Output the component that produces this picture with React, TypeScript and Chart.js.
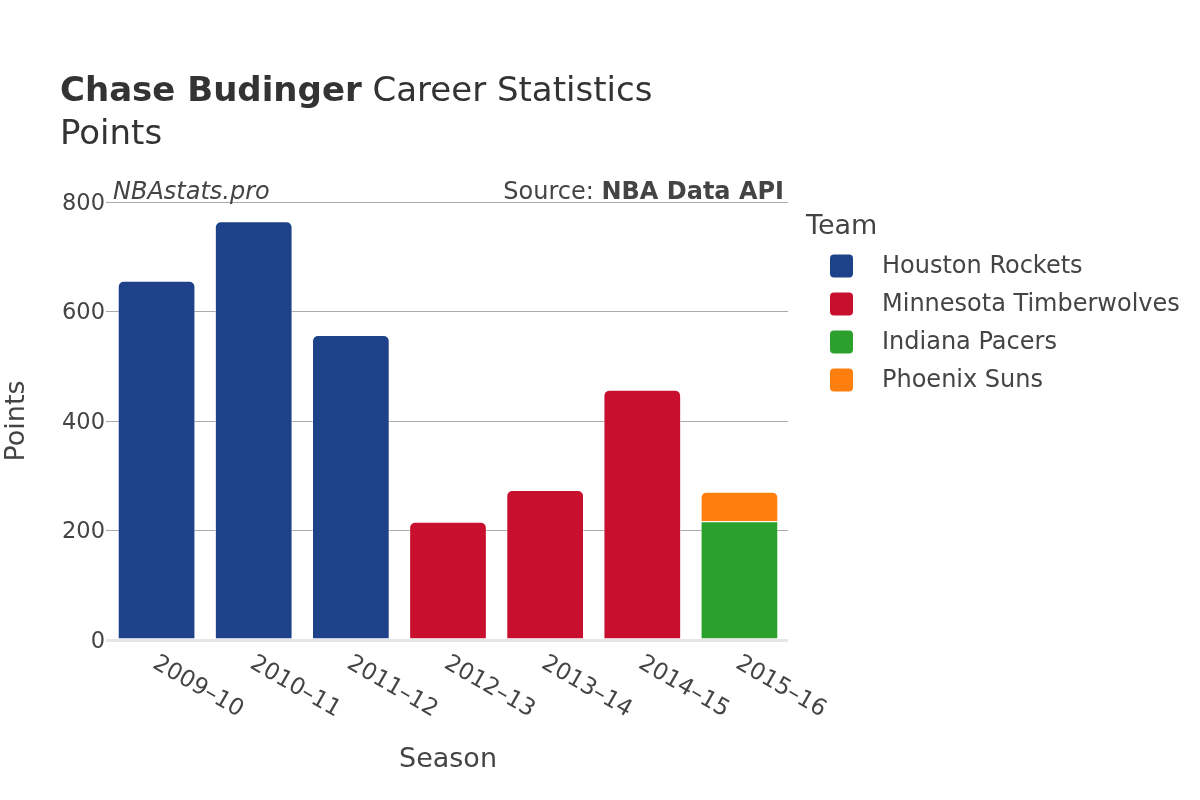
import React, { useEffect, useRef } from "react";
import { Chart, registerables } from "chart.js";

Chart.register(...registerables);

const seasons = ["2009–10", "2010–11", "2011–12", "2012–13", "2013–14", "2014–15", "2015–16"];
const teams = ["Houston Rockets", "Minnesota Timberwolves", "Indiana Pacers", "Phoenix Suns"];
const teamColors = ["#1d428a", "#c8102e", "#2ca02c", "#ff7f0e"];
const houstonPoints = [656, 765, 557, null, null, null, null];
const minnesotaPoints = [null, null, null, 216, 274, 457, null];
const indianaPoints = [null, null, null, null, null, null, 217];
const phoenixPoints = [null, null, null, null, null, null, 54];
const yTicks = [0, 200, 400, 600, 800];

const FONT = "'DejaVu Sans', sans-serif";

const textPlugin = {
  id: "texts",
  afterDraw(chart: any) {
    const ctx: CanvasRenderingContext2D = chart.ctx;
    const area = chart.chartArea;
    const xs = chart.scales.x;
    ctx.save();
    // Title
    ctx.fillStyle = "#333";
    ctx.textBaseline = "alphabetic";
    ctx.textAlign = "left";
    ctx.font = `bold 34px ${FONT}`;
    const t1 = "Chase Budinger";
    ctx.fillText(t1, 60, 101);
    const w1 = ctx.measureText(t1).width;
    ctx.font = `34px ${FONT}`;
    ctx.fillText(" Career Statistics", 60 + w1, 101);
    ctx.fillText("Points", 60, 144);

    // watermark / source
    ctx.fillStyle = "#444";
    ctx.font = `italic 24px ${FONT}`;
    ctx.fillText("NBAstats.pro", 113, 199);
    ctx.textAlign = "right";
    ctx.font = `bold 24px ${FONT}`;
    const src = "NBA Data API";
    ctx.fillText(src, 784, 199);
    const ws = ctx.measureText(src).width;
    ctx.font = `24px ${FONT}`;
    ctx.fillText("Source: ", 784 - ws, 199);

    // x tick labels
    ctx.font = `23.2px ${FONT}`;
    ctx.fillStyle = "#444";
    ctx.textAlign = "left";
    ctx.textBaseline = "alphabetic";
    const labels = chart.data.labels as string[];
    labels.forEach((lab, i) => {
      const x = xs.getPixelForTick(i);
      ctx.save();
      ctx.translate(x - 5, area.bottom + 27);
      ctx.rotate(Math.PI / 6);
      ctx.fillText(lab, 0, 0);
      ctx.restore();
    });

    // axis titles
    ctx.font = `27px ${FONT}`;
    ctx.textAlign = "center";
    ctx.textBaseline = "middle";
    ctx.fillText("Season", (area.left + area.right) / 2, 760);
    ctx.save();
    ctx.translate(17, (area.top + area.bottom) / 2);
    ctx.rotate(-Math.PI / 2);
    ctx.fillText("Points", 0, 0);
    ctx.restore();

    // legend
    ctx.textAlign = "left";
    ctx.textBaseline = "middle";
    ctx.fillStyle = "#444";
    ctx.font = `27px ${FONT}`;
    ctx.fillText("Team", 806, 227);
    ctx.font = `24px ${FONT}`;
    chart.data.datasets.forEach((ds: any, i: number) => {
      const cy = 266 + i * 38;
      ctx.fillStyle = ds.backgroundColor;
      ctx.beginPath();
      (ctx as any).roundRect(830, cy - 11.5, 23, 23, 4);
      ctx.fill();
      ctx.fillStyle = "#444";
      ctx.fillText(ds.label, 882, cy + 1);
    });
    ctx.restore();
  },
};

export default function App() {
  const ref = useRef<HTMLCanvasElement | null>(null);
  useEffect(() => {
    if (!ref.current) return;
    const series = [houstonPoints, minnesotaPoints, indianaPoints, phoenixPoints];
    const chart = new Chart(ref.current, {
      type: "bar",
      data: {
        labels: seasons,
        datasets: series.map((d, i) => ({
          label: teams[i],
          data: d,
          backgroundColor: teamColors[i],
          borderColor: "rgba(255,255,255,0.45)",
          borderWidth: 1,
          borderSkipped: "start",
          borderRadius: 6,
          barPercentage: 0.8,
          categoryPercentage: 1,
        })) as any,
      },
      options: {
        responsive: false,
        animation: false,
        layout: { padding: { left: 0, top: 202, right: 412, bottom: 160 } },
        plugins: { legend: { display: false }, tooltip: { enabled: false }, title: { display: false } },
        scales: {
          x: {
            stacked: true,
            grid: { display: false },
            border: { display: false },
            ticks: { display: false },
            afterFit: (s: any) => { s.height = 0; },
          },
          y: {
            stacked: true,
            min: 0,
            max: 800,
            afterFit: (s: any) => { s.width = 108; },
            afterBuildTicks: (s: any) => { s.ticks = yTicks.map((v) => ({ value: v })); },
            border: { display: false },
            grid: {
              color: (c: any) => (c.tick && c.tick.value === 0 ? "#e6e6e6" : "#aaaaaa"),
              lineWidth: (c: any) => (c.tick && c.tick.value === 0 ? 3 : 1),
              drawTicks: true,
              tickLength: 2,
            },
            ticks: {
              padding: 1,
              labelOffset: 2,
              color: "#444",
              font: { family: "DejaVu Sans", size: 22.5 },
            },
          },
        },
      },
      plugins: [textPlugin],
    });
    return () => chart.destroy();
  }, []);
  return (
    <div style={{ position: "absolute", left: 0, top: 0, width: 1200, height: 800, background: "#fff" }}>
      <canvas ref={ref} width={1200} height={800} style={{ width: 1200, height: 800 }} />
    </div>
  );
}
